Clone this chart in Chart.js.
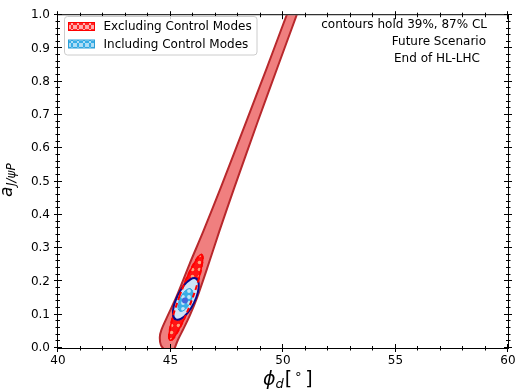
<!DOCTYPE html>
<html><head><meta charset="utf-8">
<script src="https://cdn.jsdelivr.net/npm/chart.js@4/dist/chart.umd.min.js"></script>
<style>html,body{margin:0;padding:0;background:#fff}</style>
</head><body>
<canvas id="c" width="516" height="390" style="display:block;width:516px;height:390px"></canvas>
<script>
// ---------- data ----------
const xTickValues = [40, 45, 50, 55, 60];
const xTickLabels = ['40', '45', '50', '55', '60'];
const yTickValues = [0.0, 0.1, 0.2, 0.3, 0.4, 0.5, 0.6, 0.7, 0.8, 0.9, 1.0];
const yTickLabels = ['0.0', '0.1', '0.2', '0.3', '0.4', '0.5', '0.6', '0.7', '0.8', '0.9', '1.0'];

// Excluding Control Modes, 87% CL contour (outer band)
const exclOuterX = [44.749, 44.571, 44.526, 44.593, 44.882, 45.251, 45.851, 46.461, 47.252, 48.359, 49.266, 50.160, 50.365,
                    50.809, 50.605, 49.733, 48.871, 47.852, 47.172, 46.696, 46.185, 45.860, 45.549, 45.327, 45.149];
const exclOuterY = [-0.007, 0.009, 0.033, 0.054, 0.098, 0.152, 0.253, 0.351, 0.485, 0.679, 0.839, 1.000, 1.036,
                    1.036, 1.000, 0.839, 0.679, 0.485, 0.351, 0.253, 0.152, 0.098, 0.054, 0.024, -0.007];
// Excluding Control Modes, 39% CL contour
const exclInnerX = [45.411, 45.098, 44.941, 44.937, 44.984, 45.078, 45.213, 45.569, 45.955, 46.268, 46.425, 46.429, 46.382, 46.288, 46.153, 45.798, 45.411];
const exclInnerY = [0.1584, 0.0932, 0.0436, 0.0292, 0.0231, 0.0258, 0.0370, 0.0817, 0.1452, 0.2104, 0.2600, 0.2744, 0.2805, 0.2778, 0.2666, 0.2219, 0.1584];
// Including Control Modes, 87% CL contour
const inclOuterX = [45.323, 45.148, 45.115, 45.235, 45.475, 45.771, 46.043, 46.218, 46.251, 46.131, 45.891, 45.595, 45.323];
const inclOuterY = [0.1590, 0.1267, 0.0999, 0.0858, 0.0881, 0.1064, 0.1356, 0.1679, 0.1947, 0.2088, 0.2065, 0.1882, 0.1590];
// Including Control Modes, 39% CL contour
const inclInnerX = [45.441, 45.349, 45.340, 45.418, 45.560, 45.730, 45.881, 45.973, 45.982, 45.904, 45.762, 45.592, 45.441];
const inclInnerY = [0.1515, 0.1338, 0.1189, 0.1108, 0.1117, 0.1214, 0.1371, 0.1548, 0.1697, 0.1778, 0.1769, 0.1672, 0.1515];
// best-fit point
const bestX = [45.64];
const bestY = [0.143];

const legendLabels = ['Excluding Control Modes', 'Including Control Modes'];
const noteLines = ['contours hold 39%, 87% CL', 'Future Scenario', 'End of HL-LHC'];

// ---------- helpers ----------
const pts = (xs, ys) => xs.map((x, i) => ({x: x, y: ys[i]}));
const mainCtx = document.getElementById('c').getContext('2d');
function makePattern(base, fg, size, drawFn) {
  const c = document.createElement('canvas');
  c.width = size; c.height = size;
  const g = c.getContext('2d');
  g.fillStyle = base; g.fillRect(0, 0, size, size);
  g.fillStyle = fg; g.strokeStyle = fg;
  drawFn(g, size);
  return mainCtx.createPattern(c, 'repeat');
}
const dots = (r) => (g, s) => { g.beginPath(); g.arc(s / 2, s / 2, r, 0, Math.PI * 2); g.fill(); };
const crossDots = (g, s) => {
  g.lineWidth = 1;
  g.beginPath(); g.moveTo(0, 0); g.lineTo(s, s); g.moveTo(s, 0); g.lineTo(0, s); g.stroke();
  g.beginPath(); g.arc(s / 2, s / 2, 1.6, 0, Math.PI * 2); g.stroke();
};
const redPattern = makePattern('#ff1414', '#ffa37e', 7, dots(1.8));
const cyanPattern = makePattern('#3aaee6', '#c4e6f8', 6, dots(1.9));
const redLegendPattern = makePattern('#ff2626', '#ffb0b0', 6, crossDots);
const cyanLegendPattern = makePattern('#36ade6', '#b0def6', 6, crossDots);

// ---------- plugins ----------
const decor = {
  id: 'decor',
  afterDatasetsDraw(chart) {
    const ctx = chart.ctx;
    const {left, right, top, bottom} = chart.chartArea;
    const xs = chart.scales.x, ys = chart.scales.y;
    ctx.save();
    ctx.strokeStyle = '#000';
    ctx.lineWidth = 1;
    ctx.strokeRect(left - 0.5, top - 0.5, right - left + 1, bottom - top + 1);
    ctx.beginPath();
    const hx = (v, lenOut, lenIn) => {
      const p = Math.round(xs.getPixelForValue(v)) - 0.5;
      ctx.moveTo(p, bottom + lenOut); ctx.lineTo(p, bottom - lenIn);
      ctx.moveTo(p, top - lenOut); ctx.lineTo(p, top + lenIn);
    };
    const hy = (v, lenOut, lenIn) => {
      const p = Math.round(ys.getPixelForValue(v)) - 0.5;
      ctx.moveTo(left - lenOut, p); ctx.lineTo(left + lenIn, p);
      ctx.moveTo(right + lenOut, p); ctx.lineTo(right - lenIn, p);
    };
    xTickValues.forEach(v => hx(v, 4, 4));
    yTickValues.forEach(v => hy(v, 4, 4));
    for (let v = 41; v < 60; v++) if (v % 5 !== 0) hx(v, 2.5, 2);
    for (let k = 1; k < 50; k++) if (k % 5 !== 0) hy(k * 0.02, 2.5, 2);
    ctx.stroke();
    ctx.restore();
  },
  afterDraw(chart) {
    const ctx = chart.ctx;
    ctx.save();
    ctx.fillStyle = '#000';
    ctx.textAlign = 'left';
    ctx.textBaseline = 'alphabetic';
    // y-axis label a_{J/psi P}
    ctx.save();
    ctx.translate(11.5, 197);
    ctx.rotate(-Math.PI / 2);
    ctx.font = 'italic 17px "DejaVu Sans"';
    ctx.fillText('a', 0, 0);
    const aw = ctx.measureText('a').width;
    ctx.font = 'italic 12px "DejaVu Sans"';
    ctx.fillText('J/ψP', aw + 0.5, 3);
    ctx.restore();
    // x-axis label phi_d [deg]
    let x = 263;
    const yb = 385;
    ctx.font = 'italic 19px "DejaVu Sans"';
    ctx.fillText('ϕ', x, yb);
    x += ctx.measureText('ϕ').width;
    ctx.font = 'italic 13px "DejaVu Sans"';
    ctx.fillText('d', x, yb + 3);
    x += ctx.measureText('d').width + 1;
    ctx.font = '19px "DejaVu Sans"';
    ctx.fillText('[', x, yb);
    x += ctx.measureText('[').width + 2;
    ctx.font = '13px "DejaVu Sans"';
    ctx.fillText('∘', x, yb - 7);
    x += ctx.measureText('∘').width + 3;
    ctx.font = '19px "DejaVu Sans"';
    ctx.fillText(']', x, yb);

    // note text (top right)
    ctx.font = '12px "DejaVu Sans"';
    ctx.textBaseline = 'middle';
    ctx.textAlign = 'right';
    ctx.fillText(noteLines[0], 487, 25);
    ctx.fillText(noteLines[1], 486, 41.7);
    ctx.textAlign = 'center';
    ctx.fillText(noteLines[2], 437, 59.2);

    // legend
    const lx = 64.5, ly = 16.5, lw = 192.5, lh = 38.5, r = 3;
    ctx.beginPath();
    ctx.moveTo(lx + r, ly); ctx.lineTo(lx + lw - r, ly); ctx.arcTo(lx + lw, ly, lx + lw, ly + r, r);
    ctx.lineTo(lx + lw, ly + lh - r); ctx.arcTo(lx + lw, ly + lh, lx + lw - r, ly + lh, r);
    ctx.lineTo(lx + r, ly + lh); ctx.arcTo(lx, ly + lh, lx, ly + lh - r, r);
    ctx.lineTo(lx, ly + r); ctx.arcTo(lx, ly, lx + r, ly, r);
    ctx.closePath();
    ctx.fillStyle = 'rgba(255,255,255,0.8)';
    ctx.fill();
    ctx.strokeStyle = '#cccccc';
    ctx.lineWidth = 1;
    ctx.stroke();
    const patches = [
      {fill: redLegendPattern, edge: '#ff0000', y: 22.5},
      {fill: cyanLegendPattern, edge: '#2a9fd8', y: 40}
    ];
    patches.forEach((p, i) => {
      ctx.fillStyle = p.fill;
      ctx.fillRect(68.5, p.y, 26, 8);
      ctx.strokeStyle = p.edge;
      ctx.lineWidth = 1;
      ctx.strokeRect(68.5, p.y, 26, 8);
      ctx.fillStyle = '#000';
      ctx.font = '12px "DejaVu Sans"';
      ctx.textAlign = 'left';
      ctx.textBaseline = 'middle';
      ctx.fillText(legendLabels[i], 103.5, p.y + 4.5);
    });
    ctx.restore();
  }
};

// ---------- chart ----------
new Chart(document.getElementById('c'), {
  type: 'scatter',
  data: {
    datasets: [
      {label: 'excl87', data: pts(exclOuterX, exclOuterY), showLine: true, fill: 'shape',
       backgroundColor: '#f07f7f', borderColor: '#b8282c', borderWidth: 2, pointRadius: 0, tension: 0.3, order: 6, clip: 0},
      {label: 'excl39', data: pts(exclInnerX, exclInnerY), showLine: true, fill: 'shape',
       backgroundColor: redPattern, borderColor: '#ff0000', borderWidth: 1.5, pointRadius: 0, tension: 0.4, order: 5, clip: 0},
      {label: 'incl87', data: pts(inclOuterX, inclOuterY), showLine: true, fill: 'shape',
       backgroundColor: '#cfe3f6', borderColor: '#0a0a8c', borderWidth: 2, pointRadius: 0, tension: 0.4, order: 4, clip: 0},
      {label: 'incl39', data: pts(inclInnerX, inclInnerY), showLine: true, fill: 'shape',
       backgroundColor: cyanPattern, borderColor: '#2aa5e0', borderWidth: 1, pointRadius: 0, tension: 0.4, order: 3, clip: 0},
      {label: 'excl39edge', data: pts(exclInnerX, exclInnerY), showLine: true, fill: false,
       borderColor: '#ff0000', borderWidth: 2, borderDash: [5, 3], pointRadius: 0, tension: 0.4, order: 2, clip: 0},
      {label: 'best', data: pts(bestX, bestY), showLine: false,
       pointRadius: 3, backgroundColor: '#4466dd', borderWidth: 0, order: 1}
    ]
  },
  options: {
    responsive: false,
    animation: false,
    devicePixelRatio: 1,
    layout: {padding: {left: 0, right: 8, top: 12, bottom: 0}},
    plugins: {legend: {display: false}, tooltip: {enabled: false}},
    scales: {
      x: {
        type: 'linear', min: 40, max: 60,
        afterBuildTicks: s => { s.ticks = xTickValues.map(v => ({value: v})); },
        ticks: {callback: (v, i) => xTickLabels[i], color: '#000', padding: 6, maxRotation: 0, autoSkip: false,
                font: {family: 'DejaVu Sans', size: 12}},
        grid: {display: false, drawTicks: false},
        border: {display: false},
        afterFit: s => { s.height = 42; s.paddingRight = 0; }
      },
      y: {
        type: 'linear', min: 0, max: 1,
        afterBuildTicks: s => { s.ticks = yTickValues.map(v => ({value: v})); },
        ticks: {callback: (v, i) => yTickLabels[i], color: '#000', padding: 8, autoSkip: false,
                font: {family: 'DejaVu Sans', size: 12}},
        grid: {display: false, drawTicks: false},
        border: {display: false},
        afterFit: s => { s.width = 58; }
      }
    }
  },
  plugins: [decor]
});
</script>
</body></html>
